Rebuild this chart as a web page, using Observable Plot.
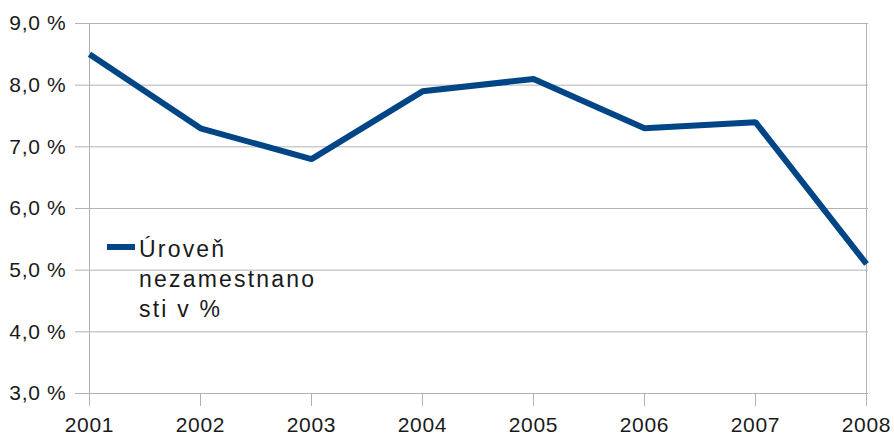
<!DOCTYPE html>
<html>
<head>
<meta charset="utf-8">
<script src="https://cdn.jsdelivr.net/npm/d3@7"></script>
<script src="https://cdn.jsdelivr.net/npm/@observablehq/plot@0.6"></script>
<style>
  html, body { margin: 0; padding: 0; background: #fff; }
  #wrap { position: relative; width: 894px; height: 436px; }
  #legend { position: absolute; left: 107px; top: 233.7px; font-family: "Liberation Sans", Arial, sans-serif;
            font-size: 23px; letter-spacing: 2.2px; line-height: 30px; color: #1a1a1a; }
  #legend .sw { position: absolute; left: 0; top: 10px; width: 28px; height: 6px; background: #004586; }
  #legend .tx { margin-left: 32px; }
</style>
</head>
<body>
<div id="wrap"></div>
<script>
const years = ["2001", "2002", "2003", "2004", "2005", "2006", "2007", "2008"];
const rates = [8.5, 7.3, 6.8, 7.9, 8.1, 7.3, 7.4, 5.1];
const yTicks = [3, 4, 5, 6, 7, 8, 9];
const seriesName = ["Úroveň", "nezamestnano", "sti v %"];

const data = years.map((y, i) => ({year: y, rate: rates[i]}));
const grid = "#b3b3b3";
const fmt = d => d.toFixed(1).replace(".", ",") + " %";

const chart = Plot.plot({
  width: 894,
  height: 436,
  marginLeft: 87,
  marginRight: 26,
  marginTop: 23,
  marginBottom: 43,
  style: {fontFamily: "Liberation Sans, Arial, sans-serif", fontSize: "21px", letterSpacing: "0.7px", background: "#fff", color: "#1a1a1a"},
  x: {type: "point", domain: years, padding: 0, label: null},
  y: {domain: [3, 9], label: null},
  marks: [
    Plot.ruleY(yTicks, {stroke: grid}),
    Plot.ruleX([years[0], years[years.length - 1]], {stroke: grid}),
    Plot.axisY({ticks: yTicks, tickSize: 12, tickPadding: 9, tickFormat: fmt, stroke: grid, fill: "#1a1a1a", label: null}),
    Plot.axisX({tickSize: 13, tickPadding: 11, stroke: grid, fill: "#1a1a1a", label: null}),
    Plot.line(data, {x: "year", y: "rate", stroke: "#004586", strokeWidth: 6, strokeLinejoin: "miter", strokeLinecap: "butt"})
  ]
});

const wrap = document.getElementById("wrap");
wrap.appendChild(chart);
const legend = document.createElement("div");
legend.id = "legend";
legend.innerHTML = '<div class="sw"></div>' + seriesName.map(s => '<div class="tx">' + s + '</div>').join("");
wrap.appendChild(legend);
</script>
</body>
</html>
